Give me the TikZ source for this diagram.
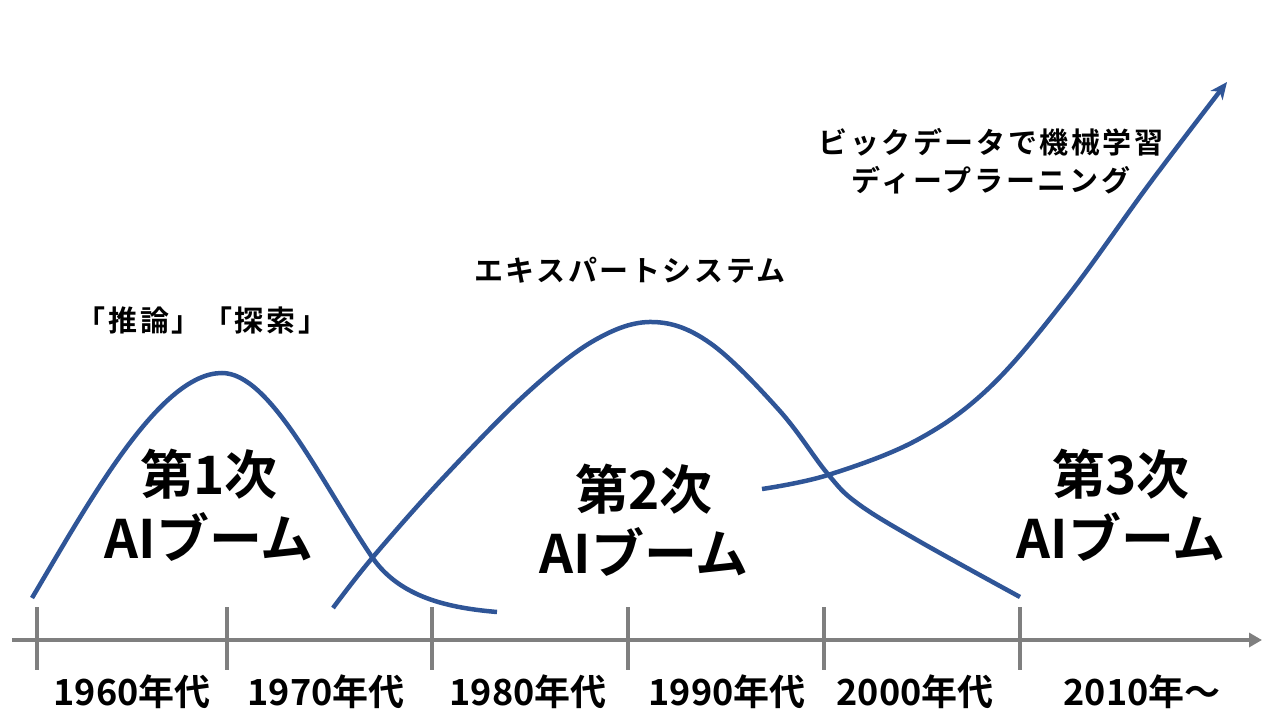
\documentclass[tikz,border=0pt]{standalone}
\usepackage{fontspec}
\setmainfont{Noto Sans CJK JP}[BoldFont={* Bold}]
\usetikzlibrary{arrows.meta}
\definecolor{boomblue}{HTML}{2F5597}
\definecolor{axisgray}{HTML}{7F7F7F}
\tikzset{
  curve/.style={draw=boomblue, line width=4.5pt, line cap=butt},
  axisline/.style={draw=axisgray, line width=4pt},
  tickline/.style={draw=axisgray, line width=4pt},
  yearlabel/.style={font=\fontsize{36}{40}\selectfont\bfseries, inner sep=0pt},
  boomlabel/.style={font=\fontsize{53}{64}\selectfont\bfseries, align=center, inner sep=0pt},
  notelabel/.style={font=\fontsize{29}{38}\selectfont\bfseries\addfontfeatures{LetterSpace=9}, align=center, inner sep=0pt}
}
\begin{document}
\begin{tikzpicture}[x=1pt,y=-1pt]
\useasboundingbox (0,0) rectangle (1280,720);
% axis
\coordinate (axs) at (12,640);
\coordinate (axe) at (1262,640);
\draw[axisline, -{Triangle[length=13pt,width=14pt]}] (axs) -- (axe);
\foreach \x [count=\i] in {37,227,432,628,824,1020} {
  \coordinate (t\i a) at (\x,607);
  \coordinate (t\i b) at (\x,670);
  \draw[tickline] (t\i a) -- (t\i b);
}
% year labels
\node[yearlabel] (y1) at (132,692) {1960年代};
\node[yearlabel] (y2) at (326,692) {1970年代};
\node[yearlabel] (y3) at (528,692) {1980年代};
\node[yearlabel] (y4) at (727,692) {1990年代};
\node[yearlabel] (y5) at (915,692) {2000年代};
\node[yearlabel] (y6) at (1142,692) {2010年～};
% curves
\coordinate (c1s) at (32,598);
\coordinate (c1p) at (222,373);
\coordinate (c1x) at (372,557);
\coordinate (c1e) at (497,612);
\draw[curve] (c1s) .. controls (90,500) and (160,373) .. (c1p)
  .. controls (270,373) and (320,480) .. (c1x)
  .. controls (400,598) and (450,608) .. (c1e);
\draw[curve] plot[smooth, tension=0.6] coordinates {(333,608) (373,557) (444,477) (527,393) (595,340) (653,322) (710,343) (779,410) (827,473) (857,503) (917,540) (1020,597)};
\draw[curve, -{Stealth[length=17pt,width=15pt,inset=5pt]}] plot[smooth, tension=0.6] coordinates {(762,489) (828,475) (917,440) (990,387) (1067,297) (1150,183) (1227,82)};
% boom labels
\node[boomlabel] (b1) at (209,505) {第1次\\AIブーム};
\node[boomlabel] (b2) at (644,520) {第2次\\AIブーム};
\node[boomlabel] (b3) at (1121,505) {第3次\\AIブーム};
% notes
\node[notelabel] (n1) at (202,320) {「推論」「探索」};
\node[notelabel] (n2) at (630,270) {エキスパートシステム};
\node[notelabel] (n3) at (991,161) {ビックデータで機械学習\\ディープラーニング};
\end{tikzpicture}
\end{document}
